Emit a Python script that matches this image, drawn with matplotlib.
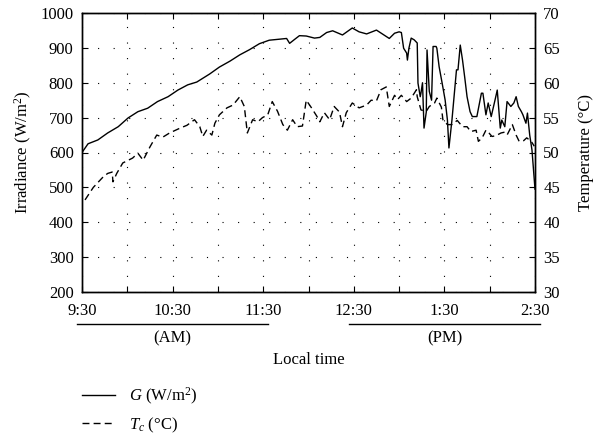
import matplotlib
matplotlib.use('Agg')
import matplotlib.pyplot as plt
import matplotlib.transforms as mtransforms
from matplotlib.ticker import FixedLocator

plt.rcParams['font.family'] = ['Liberation Serif', 'DejaVu Serif']
plt.rcParams['mathtext.fontset'] = 'custom'
plt.rcParams['mathtext.rm'] = 'Liberation Serif'
plt.rcParams['mathtext.it'] = 'Liberation Serif:italic'

# minutes after 9:30 local time
g_time = [0, 4, 10.5, 17, 24, 30.5, 37, 43.5, 50, 57, 63.5, 70, 76, 84.5, 91, 98,
          104.5, 111, 117.5, 124, 131, 135.5, 137.5, 141, 144, 148.5, 154, 157.5,
          162, 166, 172.5, 179, 183.5, 188.5, 195, 203.5, 207, 210, 211.5, 213,
          215, 215.5, 216.5, 218, 220, 222, 222.5, 224, 224.5, 225.5, 226.5, 228,
          228.5, 230, 231.5, 232.5, 234.5, 235, 236.5, 238.5, 240.5, 242, 243,
          245, 248, 249, 250.5, 252, 253.5, 255, 257, 258.5, 261.5, 264.5, 265.5,
          267.5, 269, 271, 273.5, 275, 277, 278, 280, 281.5, 284, 286, 287.5,
          289, 291, 292, 294, 295, 296.5, 298, 300]
g_vals = [600, 625, 636, 656, 674, 699, 717, 727, 746, 760, 779, 794, 802, 825,
          845, 862, 880, 895, 912, 922, 925, 927, 913, 925, 935, 934, 928, 930,
          944, 949, 937, 957, 946, 940, 951, 927, 942, 946, 944, 899, 885, 865,
          899, 928, 923, 914, 799, 760, 771, 800, 670, 716, 894, 775, 750, 904,
          904, 899, 846, 799, 750, 693, 613, 693, 837, 837, 908, 865, 814, 760,
          717, 703, 703, 770, 770, 708, 742, 703, 750, 779, 670, 693, 674, 746,
          732, 742, 760, 732, 717, 708, 684, 713, 650, 607, 495]

t_time = [2, 7.5, 14, 17, 20, 20.5, 23, 27, 33.5, 37, 40.5, 45, 49.5, 53.5, 58,
          65, 69.5, 74.5, 78, 80, 82.5, 86, 88, 91, 96, 100, 104.5, 107.5, 109.5,
          113, 116.5, 119.5, 123, 126, 129.5, 133, 136, 139.5, 142.5, 146, 148.5,
          152, 155.5, 157.5, 160.5, 164, 167, 170.5, 172.5, 175, 179, 183.5, 188.5,
          191.5, 195, 198, 201.5, 203.5, 207, 209, 211.5, 215, 218, 221.5, 222,
          224.5, 228, 230, 233.5, 235, 238, 239, 242, 245, 248.5, 252, 255, 257.5,
          261, 262.5, 265, 267.5, 269.5, 271.5, 274, 277.5, 279.5, 281.5, 285,
          287.5, 289.5, 292.5, 294.5, 297.5, 299.5]
t_vals = [43.2, 45.0, 46.5, 47.0, 47.2, 45.8, 47.0, 48.5, 49.2, 49.9, 48.9, 50.8,
          52.5, 52.2, 52.8, 53.5, 53.9, 54.7, 53.7, 52.3, 53.2, 52.5, 54.2, 55.4,
          56.4, 56.8, 58.0, 56.6, 52.8, 54.7, 54.4, 55.0, 55.4, 57.3, 55.9, 54.0,
          53.2, 54.7, 53.7, 53.8, 57.5, 56.4, 55.2, 54.4, 55.7, 54.7, 56.6, 55.8,
          53.7, 55.7, 57.1, 56.4, 56.8, 57.5, 57.4, 59.0, 59.4, 56.6, 58.2, 57.6,
          58.2, 57.3, 57.8, 59.0, 58.0, 56.1, 55.9, 56.6, 57.1, 57.8, 56.5, 54.7,
          54.0, 54.0, 54.6, 53.7, 53.7, 53.0, 53.2, 51.6, 52.1, 53.2, 52.8, 52.3,
          52.4, 52.8, 52.9, 52.5, 54.0, 52.5, 51.6, 51.7, 52.1, 51.6, 50.9]

hour_ticks = [0, 60, 120, 180, 240, 300]
hour_labels = ['9:30', '10:30', '11:30', '12:30', '1:30', '2:30']
half_ticks = [30, 90, 150, 210, 270]
g_ticks = [200, 300, 400, 500, 600, 700, 800, 900, 1000]
t_ticks = [30, 35, 40, 45, 50, 55, 60, 65, 70]
period_spans = [(-3, 123), (177, 303)]
period_labels = ['(AM)', '(PM)']

fs = 12
fig = plt.figure(figsize=(5.96, 4.37), dpi=100)
ax = fig.add_axes([82 / 596, 1 - 292 / 437, 453 / 596, 279 / 437])
ax2 = ax.twinx()

l1, = ax.plot(g_time, g_vals, color='black', lw=1.0, label=r'$G$ (W/m$^2$)')
l2, = ax2.plot(t_time, t_vals, color='black', lw=1.0, linestyle=(0, (5, 3)),
               label=r'$T_c$ (°C)')

ax.set_xlim(0, 300)
ax.set_ylim(200, 1000)
ax2.set_ylim(30, 70)
ax.set_xticks(hour_ticks)
ax.set_xticklabels(hour_labels)
ax.xaxis.set_minor_locator(FixedLocator(half_ticks))
ax.set_yticks(g_ticks)
ax2.set_yticks(t_ticks)

ax.grid(True, which='both', linestyle=(0, (1, 13)), linewidth=0.8, color='black')
ax.tick_params(which='both', direction='in', length=4, width=0.8, top=True,
               labelsize=fs, pad=6)
ax.tick_params(axis='x', which='both', pad=8)
ax2.tick_params(direction='in', length=4, width=0.8, labelsize=fs, pad=6)
for a in (ax, ax2):
    for s in a.spines.values():
        s.set_linewidth(1.0)

ax.set_ylabel('Irradiance (W/m$^2$)', fontsize=fs)
ax2.set_ylabel('Temperature (°C)', fontsize=fs)
ax.yaxis.set_label_coords(-0.105, 0.5)
ax2.yaxis.set_label_coords(1.095, 0.5)
ax.set_xlabel('Local time', fontsize=fs)
ax.xaxis.set_label_coords(0.5, -0.215)

trans = mtransforms.blended_transform_factory(ax.transData, fig.transFigure)
for (a, b), lab in zip(period_spans, period_labels):
    ax.plot([a, b], [1 - 324 / 437, 1 - 324 / 437], color='black', lw=1.0,
            transform=trans, clip_on=False)
    ax.text((a + b) / 2, 1 - 338 / 437, lab, transform=trans, ha='center',
            va='center', fontsize=fs)

fig.legend(handles=[l1, l2], loc='upper left',
           bbox_to_anchor=(82 / 596, 1 - 386 / 437), frameon=False,
           borderpad=0, borderaxespad=0, handlelength=2.0, handletextpad=0.8,
           labelspacing=0.5, fontsize=fs)

fig.savefig('out.png', dpi=100)
